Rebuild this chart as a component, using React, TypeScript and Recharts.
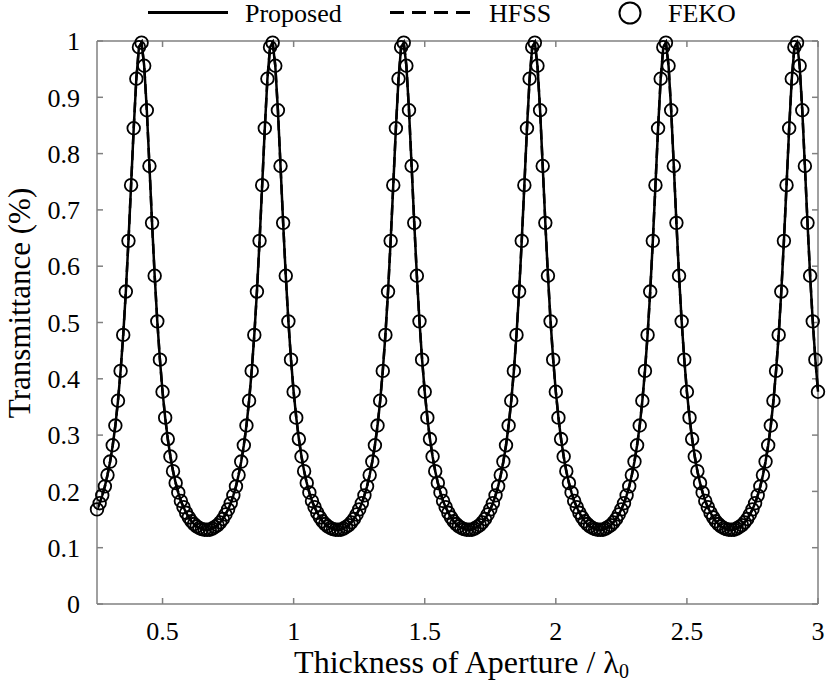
import React from 'react';
import { ComposedChart, Line, XAxis, YAxis, ReferenceLine } from 'recharts';

const thickness = [
  0.25, 0.26, 0.27, 0.28, 0.29, 0.3, 0.31, 0.32, 0.33, 0.34, 0.35, 0.36, 0.37, 0.38, 0.39, 0.4, 0.41, 0.42, 0.43, 0.44, 0.45, 0.46, 0.47, 0.48, 0.49,
  0.5, 0.51, 0.52, 0.53, 0.54, 0.55, 0.56, 0.57, 0.58, 0.59, 0.6, 0.61, 0.62, 0.63, 0.64, 0.65, 0.66, 0.67, 0.68, 0.69, 0.7, 0.71, 0.72, 0.73, 0.74,
  0.75, 0.76, 0.77, 0.78, 0.79, 0.8, 0.81, 0.82, 0.83, 0.84, 0.85, 0.86, 0.87, 0.88, 0.89, 0.9, 0.91, 0.92, 0.93, 0.94, 0.95, 0.96, 0.97, 0.98, 0.99,
  1.0, 1.01, 1.02, 1.03, 1.04, 1.05, 1.06, 1.07, 1.08, 1.09, 1.1, 1.11, 1.12, 1.13, 1.14, 1.15, 1.16, 1.17, 1.18, 1.19, 1.2, 1.21, 1.22, 1.23, 1.24,
  1.25, 1.26, 1.27, 1.28, 1.29, 1.3, 1.31, 1.32, 1.33, 1.34, 1.35, 1.36, 1.37, 1.38, 1.39, 1.4, 1.41, 1.42, 1.43, 1.44, 1.45, 1.46, 1.47, 1.48, 1.49,
  1.5, 1.51, 1.52, 1.53, 1.54, 1.55, 1.56, 1.57, 1.58, 1.59, 1.6, 1.61, 1.62, 1.63, 1.64, 1.65, 1.66, 1.67, 1.68, 1.69, 1.7, 1.71, 1.72, 1.73, 1.74,
  1.75, 1.76, 1.77, 1.78, 1.79, 1.8, 1.81, 1.82, 1.83, 1.84, 1.85, 1.86, 1.87, 1.88, 1.89, 1.9, 1.91, 1.92, 1.93, 1.94, 1.95, 1.96, 1.97, 1.98, 1.99,
  2.0, 2.01, 2.02, 2.03, 2.04, 2.05, 2.06, 2.07, 2.08, 2.09, 2.1, 2.11, 2.12, 2.13, 2.14, 2.15, 2.16, 2.17, 2.18, 2.19, 2.2, 2.21, 2.22, 2.23, 2.24,
  2.25, 2.26, 2.27, 2.28, 2.29, 2.3, 2.31, 2.32, 2.33, 2.34, 2.35, 2.36, 2.37, 2.38, 2.39, 2.4, 2.41, 2.42, 2.43, 2.44, 2.45, 2.46, 2.47, 2.48, 2.49,
  2.5, 2.51, 2.52, 2.53, 2.54, 2.55, 2.56, 2.57, 2.58, 2.59, 2.6, 2.61, 2.62, 2.63, 2.64, 2.65, 2.66, 2.67, 2.68, 2.69, 2.7, 2.71, 2.72, 2.73, 2.74,
  2.75, 2.76, 2.77, 2.78, 2.79, 2.8, 2.81, 2.82, 2.83, 2.84, 2.85, 2.86, 2.87, 2.88, 2.89, 2.9, 2.91, 2.92, 2.93, 2.94, 2.95, 2.96, 2.97, 2.98, 2.99,
  3.0,
];

const transmittance = [
  0.168, 0.179, 0.193, 0.209, 0.229, 0.253, 0.282, 0.317, 0.361, 0.414, 0.478, 0.555, 0.645, 0.744, 0.845, 0.933, 0.989, 0.997, 0.956, 0.877, 0.778, 0.677, 0.583, 0.502, 0.434,
  0.377, 0.331, 0.293, 0.262, 0.236, 0.215, 0.198, 0.183, 0.172, 0.162, 0.154, 0.147, 0.142, 0.138, 0.135, 0.133, 0.132, 0.132, 0.132, 0.134, 0.137, 0.14, 0.145, 0.151, 0.159,
  0.168, 0.179, 0.193, 0.209, 0.229, 0.253, 0.282, 0.317, 0.361, 0.414, 0.478, 0.555, 0.645, 0.744, 0.845, 0.933, 0.989, 0.997, 0.956, 0.877, 0.778, 0.677, 0.583, 0.502, 0.434,
  0.377, 0.331, 0.293, 0.262, 0.236, 0.215, 0.198, 0.183, 0.172, 0.162, 0.154, 0.147, 0.142, 0.138, 0.135, 0.133, 0.132, 0.132, 0.132, 0.134, 0.137, 0.14, 0.145, 0.151, 0.159,
  0.168, 0.179, 0.193, 0.209, 0.229, 0.253, 0.282, 0.317, 0.361, 0.414, 0.478, 0.555, 0.645, 0.744, 0.845, 0.933, 0.989, 0.997, 0.956, 0.877, 0.778, 0.677, 0.583, 0.502, 0.434,
  0.377, 0.331, 0.293, 0.262, 0.236, 0.215, 0.198, 0.183, 0.172, 0.162, 0.154, 0.147, 0.142, 0.138, 0.135, 0.133, 0.132, 0.132, 0.132, 0.134, 0.137, 0.14, 0.145, 0.151, 0.159,
  0.168, 0.179, 0.193, 0.209, 0.229, 0.253, 0.282, 0.317, 0.361, 0.414, 0.478, 0.555, 0.645, 0.744, 0.845, 0.933, 0.989, 0.997, 0.956, 0.877, 0.778, 0.677, 0.583, 0.502, 0.434,
  0.377, 0.331, 0.293, 0.262, 0.236, 0.215, 0.198, 0.183, 0.172, 0.162, 0.154, 0.147, 0.142, 0.138, 0.135, 0.133, 0.132, 0.132, 0.132, 0.134, 0.137, 0.14, 0.145, 0.151, 0.159,
  0.168, 0.179, 0.193, 0.209, 0.229, 0.253, 0.282, 0.317, 0.361, 0.414, 0.478, 0.555, 0.645, 0.744, 0.845, 0.933, 0.989, 0.997, 0.956, 0.877, 0.778, 0.677, 0.583, 0.502, 0.434,
  0.377, 0.331, 0.293, 0.262, 0.236, 0.215, 0.198, 0.183, 0.172, 0.162, 0.154, 0.147, 0.142, 0.138, 0.135, 0.133, 0.132, 0.132, 0.132, 0.134, 0.137, 0.14, 0.145, 0.151, 0.159,
  0.168, 0.179, 0.193, 0.209, 0.229, 0.253, 0.282, 0.317, 0.361, 0.414, 0.478, 0.555, 0.645, 0.744, 0.845, 0.933, 0.989, 0.997, 0.956, 0.877, 0.778, 0.677, 0.583, 0.502, 0.434,
  0.377,
];

const proposed = transmittance;
const hfss = transmittance;
const feko = transmittance;

const xTicks = [0.5, 1, 1.5, 2, 2.5, 3];
const yTicks = [0, 0.1, 0.2, 0.3, 0.4, 0.5, 0.6, 0.7, 0.8, 0.9, 1];

const data = thickness.map((x, i) => ({ x, proposed: proposed[i], hfss: hfss[i], feko: feko[i] }));

const FONT = '"Liberation Serif", "Times New Roman", serif';
const GRAY = '#808080';
const X_MIN = 0.25;
const X_MAX = 3;
const TICK_Y = 0.0107;
const TICK_X = 0.0229;

const XTitle = (props: any) => {
  const vb = props.viewBox || { x: 97, width: 721, y: 604 };
  return (
    <text x={vb.x + vb.width / 2 + 4} y={vb.y + 69} textAnchor="middle" fontFamily={FONT} fontSize={32} fill="#000">
      Thickness of Aperture / λ<tspan dy={5} fontSize={20}>0</tspan>
    </text>
  );
};

const YTitle = () => (
  <text transform="translate(30, 303) rotate(-90)" textAnchor="middle" fontFamily={FONT} fontSize={31} fill="#000">
    Transmittance (%)
  </text>
);

const LegendBar = () => (
  <svg width={827} height={40} style={{ position: 'absolute', left: 0, top: 0, pointerEvents: 'none' }}>
    <line x1={148} y1={12.5} x2={228} y2={12.5} stroke="#000" strokeWidth={3} />
    <text x={245} y={22} fontFamily={FONT} fontSize={26} fill="#000">Proposed</text>
    <line x1={390} y1={12.5} x2={472} y2={12.5} stroke="#000" strokeWidth={3} strokeDasharray="14 8" />
    <text x={489} y={22} fontFamily={FONT} fontSize={26} fill="#000">HFSS</text>
    <circle cx={630} cy={13} r={10.5} fill="none" stroke="#000" strokeWidth={2} />
    <text x={668} y={22} fontFamily={FONT} fontSize={26} fill="#000">FEKO</text>
  </svg>
);

export default function App() {
  return (
    <div style={{ position: 'absolute', left: 0, top: 0, width: 827, height: 684, background: '#fff' }}>
      <ComposedChart width={827} height={684} data={data} margin={{ top: 41, right: 9, bottom: 0, left: 0 }}>
        <XAxis
          dataKey="x"
          type="number"
          domain={[X_MIN, X_MAX]}
          ticks={xTicks}
          interval={0}
          height={80}
          tickSize={0}
          tickMargin={18}
          tickLine={false}
          axisLine={{ stroke: GRAY, strokeWidth: 1.5 }}
          tick={{ fontFamily: FONT, fontSize: 26, fill: '#000' }}
          label={<XTitle />}
        />
        <YAxis
          type="number"
          domain={[0, 1]}
          ticks={yTicks}
          interval={0}
          width={97}
          tickSize={0}
          tickMargin={17}
          tickLine={false}
          axisLine={{ stroke: GRAY, strokeWidth: 1.5 }}
          tick={{ fontFamily: FONT, fontSize: 26, fill: '#000' }}
          label={<YTitle />}
        />
        <ReferenceLine y={1} stroke={GRAY} strokeWidth={1.5} ifOverflow="visible" />
        <ReferenceLine x={X_MAX} stroke={GRAY} strokeWidth={1.5} ifOverflow="visible" />
        {xTicks.map((t) => (
          <ReferenceLine key={`xb${t}`} segment={[{ x: t, y: 0 }, { x: t, y: TICK_Y }]} stroke={GRAY} strokeWidth={1.5} ifOverflow="visible" />
        ))}
        {xTicks.map((t) => (
          <ReferenceLine key={`xt${t}`} segment={[{ x: t, y: 1 }, { x: t, y: 1 - TICK_Y }]} stroke={GRAY} strokeWidth={1.5} ifOverflow="visible" />
        ))}
        {yTicks.map((t) => (
          <ReferenceLine key={`yl${t}`} segment={[{ x: X_MIN, y: t }, { x: X_MIN + TICK_X, y: t }]} stroke={GRAY} strokeWidth={1.5} ifOverflow="visible" />
        ))}
        {yTicks.map((t) => (
          <ReferenceLine key={`yr${t}`} segment={[{ x: X_MAX, y: t }, { x: X_MAX - TICK_X, y: t }]} stroke={GRAY} strokeWidth={1.5} ifOverflow="visible" />
        ))}
        <Line dataKey="proposed" type="linear" stroke="#000" strokeWidth={2.5} dot={false} activeDot={false} isAnimationActive={false} />
        <Line dataKey="hfss" type="linear" stroke="#000" strokeWidth={2.5} strokeDasharray="10 6" dot={false} activeDot={false} isAnimationActive={false} />
        <Line
          dataKey="feko"
          type="linear"
          stroke="none"
          strokeWidth={0}
          dot={{ r: 6.3, fill: 'none', stroke: '#000', strokeWidth: 1.8 }}
          activeDot={false}
          isAnimationActive={false}
        />
      </ComposedChart>
      <LegendBar />
    </div>
  );
}
